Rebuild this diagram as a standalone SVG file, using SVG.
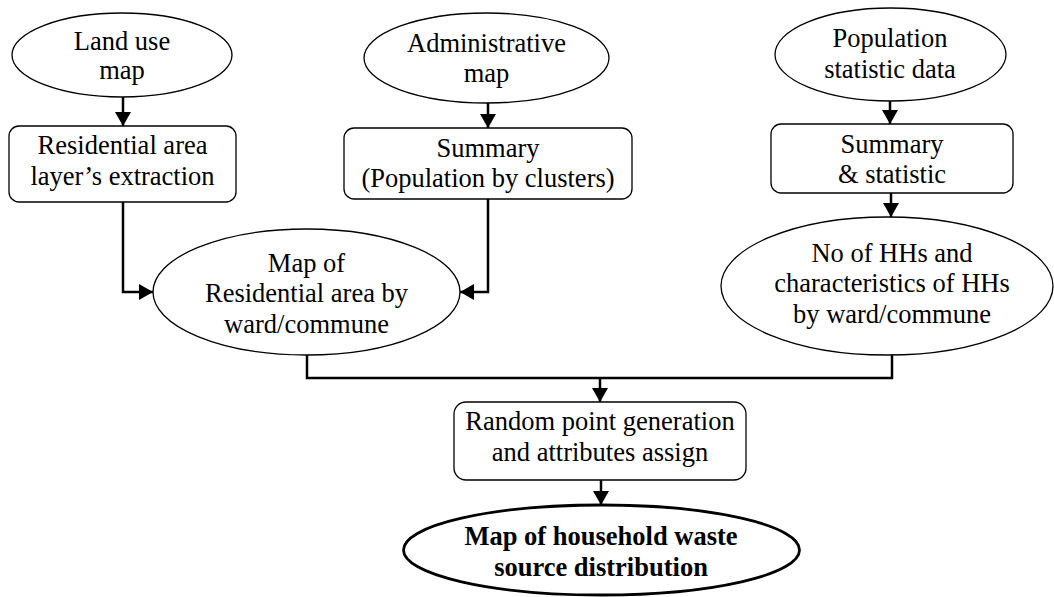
<svg xmlns="http://www.w3.org/2000/svg" width="1054" height="597" viewBox="0 0 1054 597">
<style>
  .shape { fill: #fff; stroke: #000; stroke-width: 1.3; }
  .final { fill: #fff; stroke: #000; stroke-width: 2.8; }
  .t { font-family: "Liberation Serif", "Times New Roman", serif; font-size: 26.5px; fill: #000; text-anchor: middle; }
  .b { font-weight: bold; }
  .conn { fill: none; stroke: #000; stroke-width: 2.5; }
</style>
<defs>
  <marker id="arr" markerUnits="userSpaceOnUse" markerWidth="15" markerHeight="16" refX="14" refY="8" orient="auto">
    <path d="M0,0 L14,8 L0,16 z" fill="#000"/>
  </marker>
</defs>
<rect width="1054" height="597" fill="#fff"/>
<g id="connectors">
  <path class="conn" d="M123,97 V126" marker-end="url(#arr)"/>
  <path class="conn" d="M488,103 V128" marker-end="url(#arr)"/>
  <path class="conn" d="M890,101 V124" marker-end="url(#arr)"/>
  <path class="conn" d="M891,193 V217" marker-end="url(#arr)"/>
  <path class="conn" d="M123,202 V292 H153" marker-end="url(#arr)"/>
  <path class="conn" d="M488,199 V292 H460" marker-end="url(#arr)"/>
  <path class="conn" d="M307,355 V378 H892 V355"/>
  <path class="conn" d="M600,378 V402" marker-end="url(#arr)"/>
  <path class="conn" d="M601,480 V505" marker-end="url(#arr)"/>
</g>
<g id="landuse">
  <ellipse class="shape" cx="122" cy="55" rx="110" ry="42"/>
  <text class="t" x="122" y="50">Land use</text>
  <text class="t" x="122" y="79">map</text>
</g>
<g id="residential">
  <rect class="shape" x="9" y="126" width="227" height="76" rx="10"/>
  <text class="t" x="122.5" y="154">Residential area</text>
  <text class="t" x="122.5" y="185">layer’s extraction</text>
</g>
<g id="admin">
  <ellipse class="shape" cx="486.5" cy="58" rx="122.5" ry="45"/>
  <text class="t" x="486.5" y="52">Administrative</text>
  <text class="t" x="486.5" y="82">map</text>
</g>
<g id="summary">
  <rect class="shape" x="344" y="128" width="288" height="71" rx="10"/>
  <text class="t" x="488" y="157">Summary</text>
  <text class="t" x="488" y="187">(Population by clusters)</text>
</g>
<g id="population">
  <ellipse class="shape" cx="890.5" cy="54.5" rx="115.5" ry="46.5"/>
  <text class="t" x="890" y="47">Population</text>
  <text class="t" x="890" y="78">statistic data</text>
</g>
<g id="summarystat">
  <rect class="shape" x="771" y="124" width="242" height="69" rx="10"/>
  <text class="t" x="892" y="153">Summary</text>
  <text class="t" x="892" y="183">&amp; statistic</text>
</g>
<g id="mapres">
  <ellipse class="shape" cx="306.5" cy="292" rx="153.5" ry="63"/>
  <text class="t" x="306.5" y="272">Map of</text>
  <text class="t" x="306.5" y="302">Residential area by</text>
  <text class="t" x="306.5" y="333">ward/commune</text>
</g>
<g id="hhs">
  <ellipse class="shape" cx="887" cy="286" rx="166" ry="69"/>
  <text class="t" x="892" y="262">No of HHs and</text>
  <text class="t" x="892" y="292">characteristics of HHs</text>
  <text class="t" x="892" y="323">by ward/commune</text>
</g>
<g id="random">
  <rect class="shape" x="454" y="402" width="292" height="78" rx="12"/>
  <text class="t" x="600" y="430">Random point generation</text>
  <text class="t" x="600" y="461">and attributes assign</text>
</g>
<g id="final">
  <ellipse class="final" cx="601.5" cy="550" rx="198" ry="45"/>
  <text class="t b" x="601" y="545">Map of household waste</text>
  <text class="t b" x="601" y="576">source distribution</text>
</g>
</svg>
